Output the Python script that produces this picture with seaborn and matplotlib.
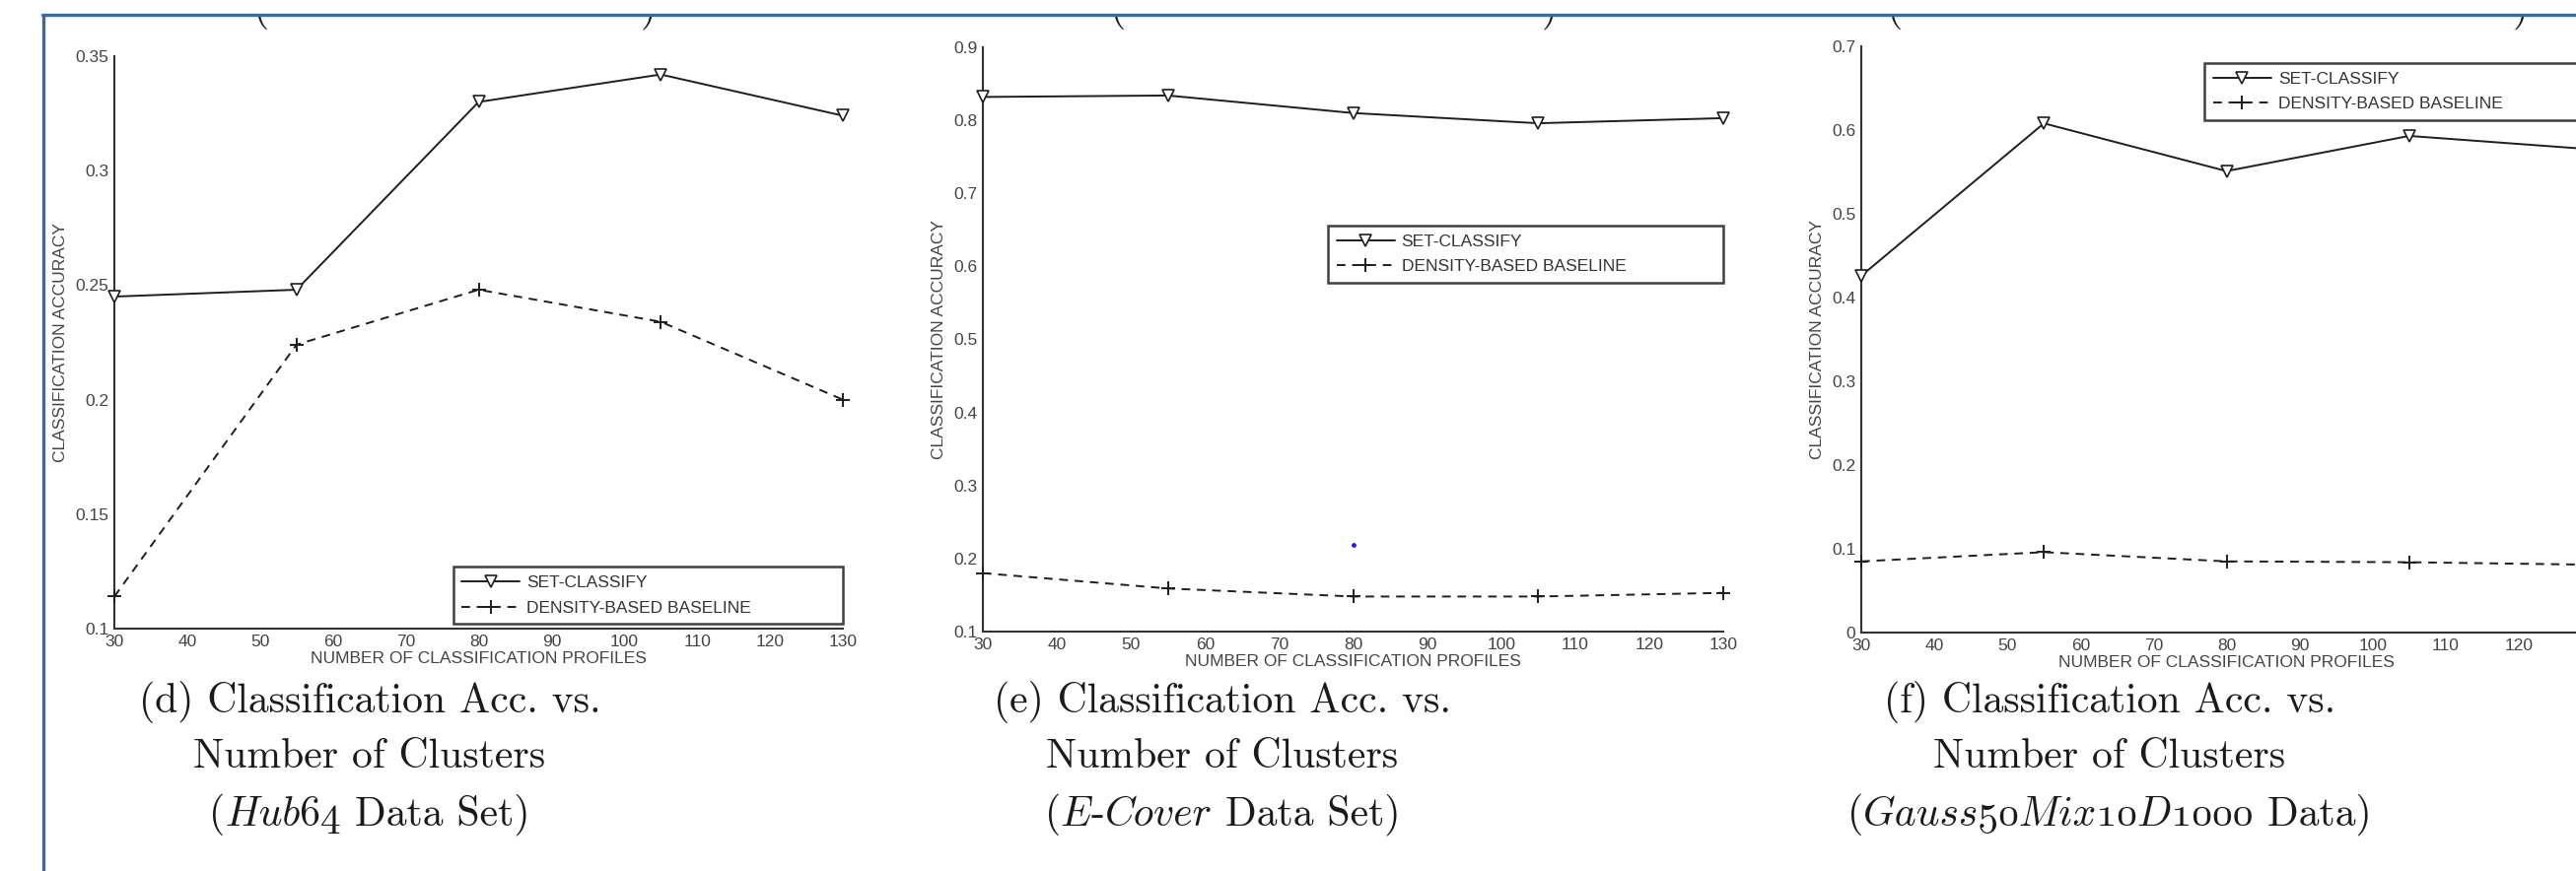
"""Classification accuracy vs. number of classification profiles (three data sets)."""
import matplotlib
matplotlib.use("Agg")
import matplotlib.pyplot as plt
import matplotlib.ticker as mticker
from matplotlib.patches import Rectangle
from matplotlib.offsetbox import TextArea, HPacker, AnnotationBbox
import seaborn as sns

# ── data ─────────────────────────────────────────────────────────────────────
profiles = [30, 55, 80, 105, 130]

hub64_set = [0.245, 0.248, 0.330, 0.342, 0.324]
hub64_base = [0.114, 0.224, 0.248, 0.234, 0.200]

ecover_set = [0.832, 0.834, 0.810, 0.796, 0.803]
ecover_base = [0.180, 0.159, 0.148, 0.148, 0.153]
ecover_stray_x = [80]
ecover_stray_y = [0.2185]

gauss_set = [0.426, 0.608, 0.551, 0.593, 0.577]
gauss_base = [0.085, 0.096, 0.085, 0.084, 0.081]

x_ticks = [30, 40, 50, 60, 70, 80, 90, 100, 110, 120, 130]
y_ticks_hub = [0.1, 0.15, 0.2, 0.25, 0.3, 0.35]
y_ticks_ecover = [0.1, 0.2, 0.3, 0.4, 0.5, 0.6, 0.7, 0.8, 0.9]
y_ticks_gauss = [0, 0.1, 0.2, 0.3, 0.4, 0.5, 0.6, 0.7]

caption_line1 = ["(d) Classification Acc. vs.", "(e) Classification Acc. vs.",
                 "(f) Classification Acc. vs."]
caption_line2 = ["Number of Clusters", "Number of Clusters", "Number of Clusters"]
# (text, italic) pieces
caption_line3 = [
    [("(", False), ("Hub64", True), (" Data Set)", False)],
    [("(", False), ("E", True), ("-", False), ("Cover", True), (" Data Set)", False)],
    [("(", False), ("Gauss50Mix10D1000", True), (" Data)", False)],
]

# ── style ────────────────────────────────────────────────────────────────────
sns.set_style("white")
plt.rcParams["font.family"] = ["Liberation Sans", "DejaVu Sans"]

W, H = 2613, 884
fig = plt.figure(figsize=(W / 100, H / 100), dpi=100)
fig.patch.set_facecolor("white")


def px_axes(left, top, right, bottom):
    return [left / W, 1 - bottom / H, (right - left) / W, (bottom - top) / H]


LINE = "#1e1e1e"
TXT = "#444444"
FS = 12.5
CAP_FS = 30


def draw_panel(rect, set_vals, base_vals, yticks, leg_box):
    ax = fig.add_axes(rect)
    sns.lineplot(x=profiles, y=set_vals, ax=ax, color=LINE, linewidth=1.4,
                 marker="v", markersize=8.5, markerfacecolor="white",
                 markeredgecolor=LINE, markeredgewidth=1.2,
                 label="SET-CLASSIFY", clip_on=False, zorder=3)
    sns.lineplot(x=profiles, y=base_vals, ax=ax, color=LINE, linewidth=1.4,
                 marker="+", markersize=10, markeredgecolor=LINE,
                 markeredgewidth=1.4, label="DENSITY-BASED BASELINE",
                 clip_on=False, zorder=3)
    ax.lines[-1].set_dashes([4.5, 3.5])

    ax.set_xlim(30, 130)
    ax.set_ylim(yticks[0], yticks[-1])
    ax.set_xticks(x_ticks)
    ax.set_yticks(yticks)
    ax.yaxis.set_major_formatter(mticker.FuncFormatter(lambda v, p: f"{round(v, 3):g}"))
    ax.tick_params(direction="in", length=6, width=1.2, colors="#333333",
                   labelsize=FS, labelcolor=TXT, pad=4)
    for side in ("top", "right"):
        ax.spines[side].set_visible(False)
    for side in ("left", "bottom"):
        ax.spines[side].set_color("#333333")
        ax.spines[side].set_linewidth(1.5)
    ax.set_xlabel("NUMBER OF CLASSIFICATION PROFILES", fontsize=FS, color=TXT, labelpad=2)
    ax.set_ylabel("CLASSIFICATION ACCURACY", fontsize=FS, color=TXT, labelpad=5)

    leg = ax.legend(loc="lower left", bbox_to_anchor=leg_box, mode="expand",
                    borderaxespad=0, fancybox=False, frameon=True,
                    edgecolor="#111111", fontsize=FS, handlelength=3.4,
                    labelspacing=0.6, borderpad=0.5, handletextpad=0.4)
    leg.get_frame().set_linewidth(1.8)
    for t in leg.get_texts():
        t.set_color("#333333")
    return ax


ax1 = draw_panel(px_axes(116, 57, 855, 638), hub64_set, hub64_base, y_ticks_hub,
                 (0.465, 0.008, 0.535, 0.123))
ax2 = draw_panel(px_axes(997, 48, 1748, 641), ecover_set, ecover_base, y_ticks_ecover,
                 (0.466, 0.597, 0.534, 0.122))
ax2.scatter(ecover_stray_x, ecover_stray_y, s=6, color="#1a1aff", zorder=4)
ax3 = draw_panel(px_axes(1888, 47, 2629, 642), gauss_set, gauss_base, y_ticks_gauss,
                 (0.47, 0.874, 0.53, 0.121))
# the last tick label of the right panel falls past the page edge
ax3.set_xticklabels([str(t) if t < 130 else "" for t in x_ticks])

# captions under each panel
cap_x = [375, 1240, 2140]
cap_y = [713, 768, 827]
rm = dict(family="cmr10", size=CAP_FS, color="#1a1a1a")
it = dict(family="cmmi10", size=CAP_FS, color="#1a1a1a")
for i, cx in enumerate(cap_x):
    for cy, line in zip(cap_y[:2], (caption_line1[i], caption_line2[i])):
        fig.text(cx / W, 1 - cy / H, line, ha="center", va="center", **rm)
    pieces = [TextArea(s, textprops=(it if is_it else rm)) for s, is_it in caption_line3[i]]
    pack = HPacker(children=pieces, align="baseline", pad=0, sep=0)
    fig.add_artist(AnnotationBbox(pack, (cx / W, 1 - cap_y[2] / H),
                                  xycoords="figure fraction", frameon=False,
                                  box_alignment=(0.5, 0.5)))

# tails of the caption row above, cut off by the page edge
frag_x = [265, 658, 1134, 1572, 1922, 2557]
frag_s = ["(", ")", "(", ")", "(", ")"]
for fx, fs in zip(frag_x, frag_s):
    fig.text(fx / W, 1 - 30 / H, fs, ha="center", va="bottom", **rm)

# page frame
fig.patches.append(Rectangle((0, 1 - 14 / H), 1, 14 / H, transform=fig.transFigure,
                             facecolor="white", edgecolor="none", zorder=10))
fig.patches.append(Rectangle((0, 0), 43 / W, 1, transform=fig.transFigure,
                             facecolor="white", edgecolor="none", zorder=10))
fig.add_artist(plt.Line2D([43 / W, 1], [1 - 15 / H, 1 - 15 / H], transform=fig.transFigure,
                          color="#3b67a3", linewidth=2.4, zorder=11))
fig.add_artist(plt.Line2D([44 / W, 44 / W], [0, 1 - 15 / H], transform=fig.transFigure,
                          color="#3b67a3", linewidth=2.4, zorder=11))

fig.savefig("out.png", dpi=100, facecolor="white")
